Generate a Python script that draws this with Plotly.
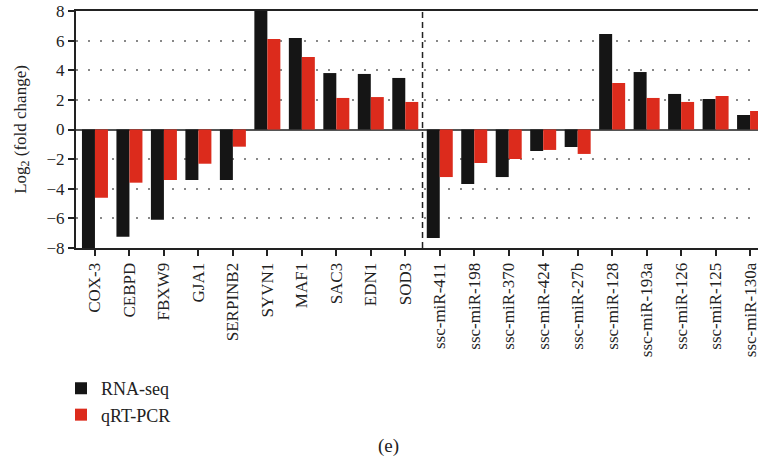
import plotly.graph_objects as go

categories = ["COX-3", "CEBPD", "FBXW9", "GJA1", "SERPINB2", "SYVN1", "MAF1", "SAC3", "EDN1", "SOD3",
              "ssc-miR-411", "ssc-miR-198", "ssc-miR-370", "ssc-miR-424", "ssc-miR-27b",
              "ssc-miR-128", "ssc-miR-193a", "ssc-miR-126", "ssc-miR-125", "ssc-miR-130a"]
rna_seq = [-8.0, -7.24, -6.09, -3.41, -3.41, 8.0, 6.18, 3.81, 3.75, 3.48,
           -7.33, -3.68, -3.21, -1.45, -1.18, 6.45, 3.88, 2.40, 2.06, 0.98]
qrt_pcr = [-4.6, -3.59, -3.41, -2.31, -1.16, 6.11, 4.9, 2.13, 2.19, 1.86,
           -3.21, -2.26, -1.99, -1.38, -1.65, 3.14, 2.13, 1.86, 2.26, 1.25]
y_ticks = [-8, -6, -4, -2, 0, 2, 4, 6, 8]

FONT = "Liberation Serif, Times New Roman, serif"
x_idx = list(range(len(categories)))

fig = go.Figure()
fig.add_trace(go.Bar(x=x_idx, y=rna_seq, name="RNA-seq", marker=dict(color="#151515", line=dict(width=0))))
fig.add_trace(go.Bar(x=x_idx, y=qrt_pcr, name="qRT-PCR", marker=dict(color="#dc2b1c", line=dict(width=0))))

fig.add_shape(type="line", xref="x", yref="y", x0=9.5, x1=9.5, y0=-8, y1=8,
              line=dict(color="#222", width=1.5, dash="6px,4px"))

fig.add_annotation(text="(e)", xref="paper", yref="paper", x=(388 - 76) / 682, y=(248 - 446) / 237,
                   xanchor="center", yanchor="middle",
                   showarrow=False, font=dict(family=FONT, size=19, color="#222"))

fig.update_layout(
    width=758, height=462,
    margin=dict(l=76, r=0, t=11, b=214, autoexpand=False),
    paper_bgcolor="white", plot_bgcolor="white",
    barmode="group", bargap=0.246, bargroupgap=0,
    font=dict(family=FONT, size=17, color="#222"),
    showlegend=True,
    legend=dict(x=-0.022, y=-0.515, xanchor="left", yanchor="top",
                font=dict(family=FONT, size=18, color="#222"),
                bgcolor="rgba(0,0,0,0)", tracegroupgap=0, itemwidth=30),
    xaxis=dict(range=[-0.55, 19.23], tickmode="array", tickvals=x_idx, ticktext=categories,
               tickangle=-90, ticks="outside", ticklen=6, tickwidth=1.5, tickcolor="#222",
               showline=True, linecolor="#222", linewidth=2, mirror=True, automargin=False,
               ticklabeloverflow="allow",
               showgrid=False, zeroline=False, tickfont=dict(family=FONT, size=17)),
    yaxis=dict(range=[-8, 8], tickmode="array", tickvals=y_ticks,
               ticks="outside", ticklen=6, tickwidth=1.5, tickcolor="#222",
               showline=True, linecolor="#222", linewidth=2, automargin=False,
               showgrid=True, gridcolor="#888", gridwidth=1.5, griddash="2px,10px",
               zeroline=True, zerolinecolor="#555", zerolinewidth=2,
               title=dict(text="Log<sub>2</sub> (fold change)", font=dict(family=FONT, size=17), standoff=16),
               tickfont=dict(family=FONT, size=17)),
)

fig.write_html("out.html", config={"displayModeBar": False},
               post_script="document.body.style.margin='0';document.body.style.overflow='hidden';")
